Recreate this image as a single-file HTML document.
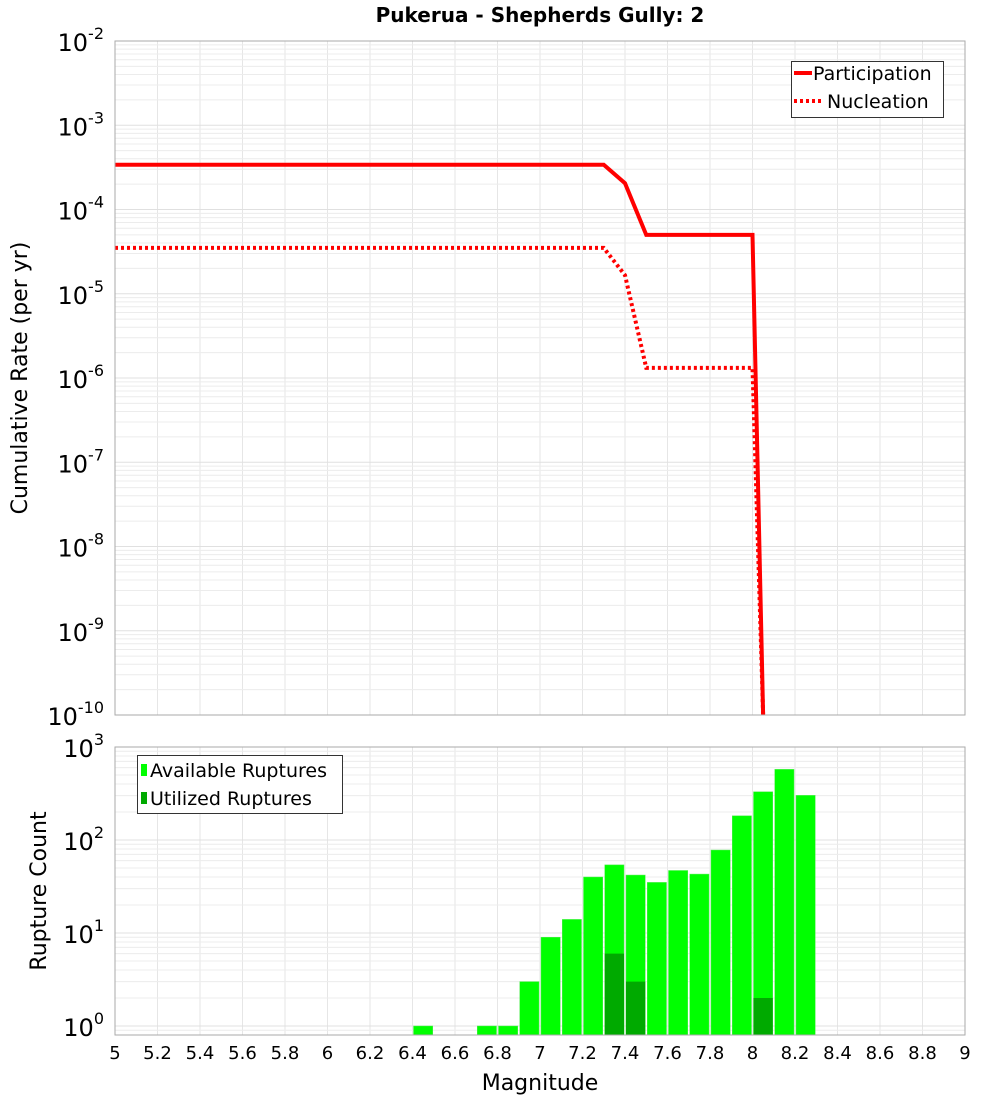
<!DOCTYPE html>
<html><head><meta charset="utf-8"><style>
body{margin:0;background:#fff;font-family:"DejaVu Sans","Liberation Sans",sans-serif}
svg text{font-family:"DejaVu Sans","Liberation Sans",sans-serif}
</style></head><body>
<svg id="c" width="1000" height="1100" viewBox="0 0 1000 1100" xmlns="http://www.w3.org/2000/svg">
<rect width="1000" height="1100" fill="#fff"/>
<text x="540" y="22" text-anchor="middle" font-size="20" font-weight="bold">Pukerua - Shepherds Gully: 2</text>
<g id="topPanel"></g>
<g id="botPanel"></g>
<text x="27" y="378" transform="rotate(-90 27 378)" text-anchor="middle" font-size="22">Cumulative Rate (per yr)</text>
<text x="46" y="891" transform="rotate(-90 46 891)" text-anchor="middle" font-size="22">Rupture Count</text>
<text x="540" y="1090" text-anchor="middle" font-size="22">Magnitude</text>
</svg>
<script>
const partMag=[5,7.3,7.4,7.5,8.0,8.05];
const partRate=[3.4e-4,3.4e-4,2.05e-4,5e-5,5e-5,1e-10];
const nuclMag=[5,7.3,7.4,7.5,8.0,8.05];
const nuclRate=[3.5e-5,3.5e-5,1.66e-5,1.32e-6,1.32e-6,1e-10];
const binMag=[6.4,6.7,6.8,6.9,7.0,7.1,7.2,7.3,7.4,7.5,7.6,7.7,7.8,7.9,8.0,8.1,8.2];
const availCount=[1,1,1,3,9,14,40,54,42,35,47,43,78,182,330,575,302];
const usedMag=[7.3,7.4,8.0];
const usedCount=[6,3,2];
const xTicks=["5","5.2","5.4","5.6","5.8","6","6.2","6.4","6.6","6.8","7","7.2","7.4","7.6","7.8","8","8.2","8.4","8.6","8.8","9"];

const NS="http://www.w3.org/2000/svg";
const L=115,R=965;
const X=m=>L+(m-5)/4*(R-L);
const T0=41,T1=715; const Yt=v=>T0+(-2-Math.log10(v))/8*(T1-T0);
const B0=747,B1=1035; const LBmin=Math.log10(0.8); const Yb=v=>B0+(3-Math.log10(v))/(3-LBmin)*(B1-B0);
function el(p,tag,a){const e=document.createElementNS(NS,tag);for(const k in a)e.setAttribute(k,a[k]);p.appendChild(e);return e;}
const topG=document.getElementById('topPanel'),botG=document.getElementById('botPanel');

function grid(g,y0,y1,Y,lo,hi){
  for(let i=0;i<xTicks.length;i++){const x=X(+xTicks[i]);
    const ln=el(g,'line',{x1:x,x2:x,y1:y0,y2:y1,stroke:'#e6e6e6','stroke-width':1});
    
    }
  for(let d=lo;d<hi;d++)for(let k=1;k<10;k++){const y=Y(k*Math.pow(10,d));if(y<y0||y>y1)continue;
    const ln=el(g,'line',{x1:L,x2:R,y1:y,y2:y,stroke:k==1?'#e0e0e0':'#ececec','stroke-width':1});
    
    }
}
function ylab(g,y,e){const t=el(g,'text',{x:104,y:y+10,'text-anchor':'end','font-size':24});
  
  
  t.textContent='10';const s=el(t,'tspan',{dy:-12,'font-size':16});s.textContent=e;}

grid(topG,T0,T1,Yt,-10,-2);
for(let e=-10;e<=-2;e++)ylab(topG,Yt(Math.pow(10,e)),String(e));
function line(mags,vals,dash,name){
  const pts=mags.map((m,i)=>X(m)+','+Yt(vals[i])).join(' ');
  const p=el(topG,'polyline',{points:pts,fill:'none',stroke:'#ff0000','stroke-width':4});
  if(dash)p.setAttribute('stroke-dasharray','3,3');
  
  }
line(partMag,partRate,false,'participation-line');
line(nuclMag,nuclRate,true,'nucleation-line');
el(topG,'rect',{x:L-5,y:T1+1,width:R-L+10,height:30,fill:'#fff'});
el(topG,'rect',{x:L,y:T0,width:R-L,height:T1-T0,fill:'none',stroke:'#aaa','stroke-width':1});

const lg=el(topG,'g',{});


el(lg,'rect',{x:791.5,y:61.5,width:152,height:56,fill:'#fff',stroke:'#333'});
el(lg,'line',{x1:794,x2:812,y1:73,y2:73,stroke:'#f00','stroke-width':4});
el(lg,'line',{x1:794,x2:823,y1:101,y2:101,stroke:'#f00','stroke-width':4,'stroke-dasharray':'3,3'});
let t=el(lg,'text',{x:813,y:80,'font-size':19});t.textContent='Participation';
t=el(lg,'text',{x:827,y:108,'font-size':19});t.textContent='Nucleation';

grid(botG,B0,B1,Yb,-1,3);
for(let e=0;e<=3;e++)ylab(botG,Yb(Math.pow(10,e)),String(e));
binMag.forEach((m,i)=>{const y=Yb(availCount[i]);
  const r=el(botG,'rect',{x:X(m)+1,y:y,width:X(m+0.1)-X(m)-2,height:B1-y,fill:'#00ff00',stroke:'#55ee55','stroke-width':0.5});
  
  });
usedMag.forEach((m,i)=>{const y=Yb(usedCount[i]);
  const r=el(botG,'rect',{x:X(m)+1,y:y,width:X(m+0.1)-X(m)-2,height:B1-y,fill:'#00aa00'});
  
  });
el(botG,'rect',{x:L,y:B0,width:R-L,height:B1-B0,fill:'none',stroke:'#aaa','stroke-width':1});
xTicks.forEach(s=>{const tx=el(botG,'text',{x:X(+s),y:1059,'text-anchor':'middle','font-size':18});
  
  
  tx.textContent=s;});
const lb=el(botG,'g',{});


el(lb,'rect',{x:137.5,y:755.5,width:205,height:58,fill:'#fff',stroke:'#333'});
el(lb,'rect',{x:141,y:764,width:6,height:12,fill:'#00ff00'});
el(lb,'rect',{x:141,y:792,width:6,height:12,fill:'#00aa00'});
t=el(lb,'text',{x:150,y:777,'font-size':19});t.textContent='Available Ruptures';
t=el(lb,'text',{x:150,y:805,'font-size':19});t.textContent='Utilized Ruptures';
</script>
</body></html>
